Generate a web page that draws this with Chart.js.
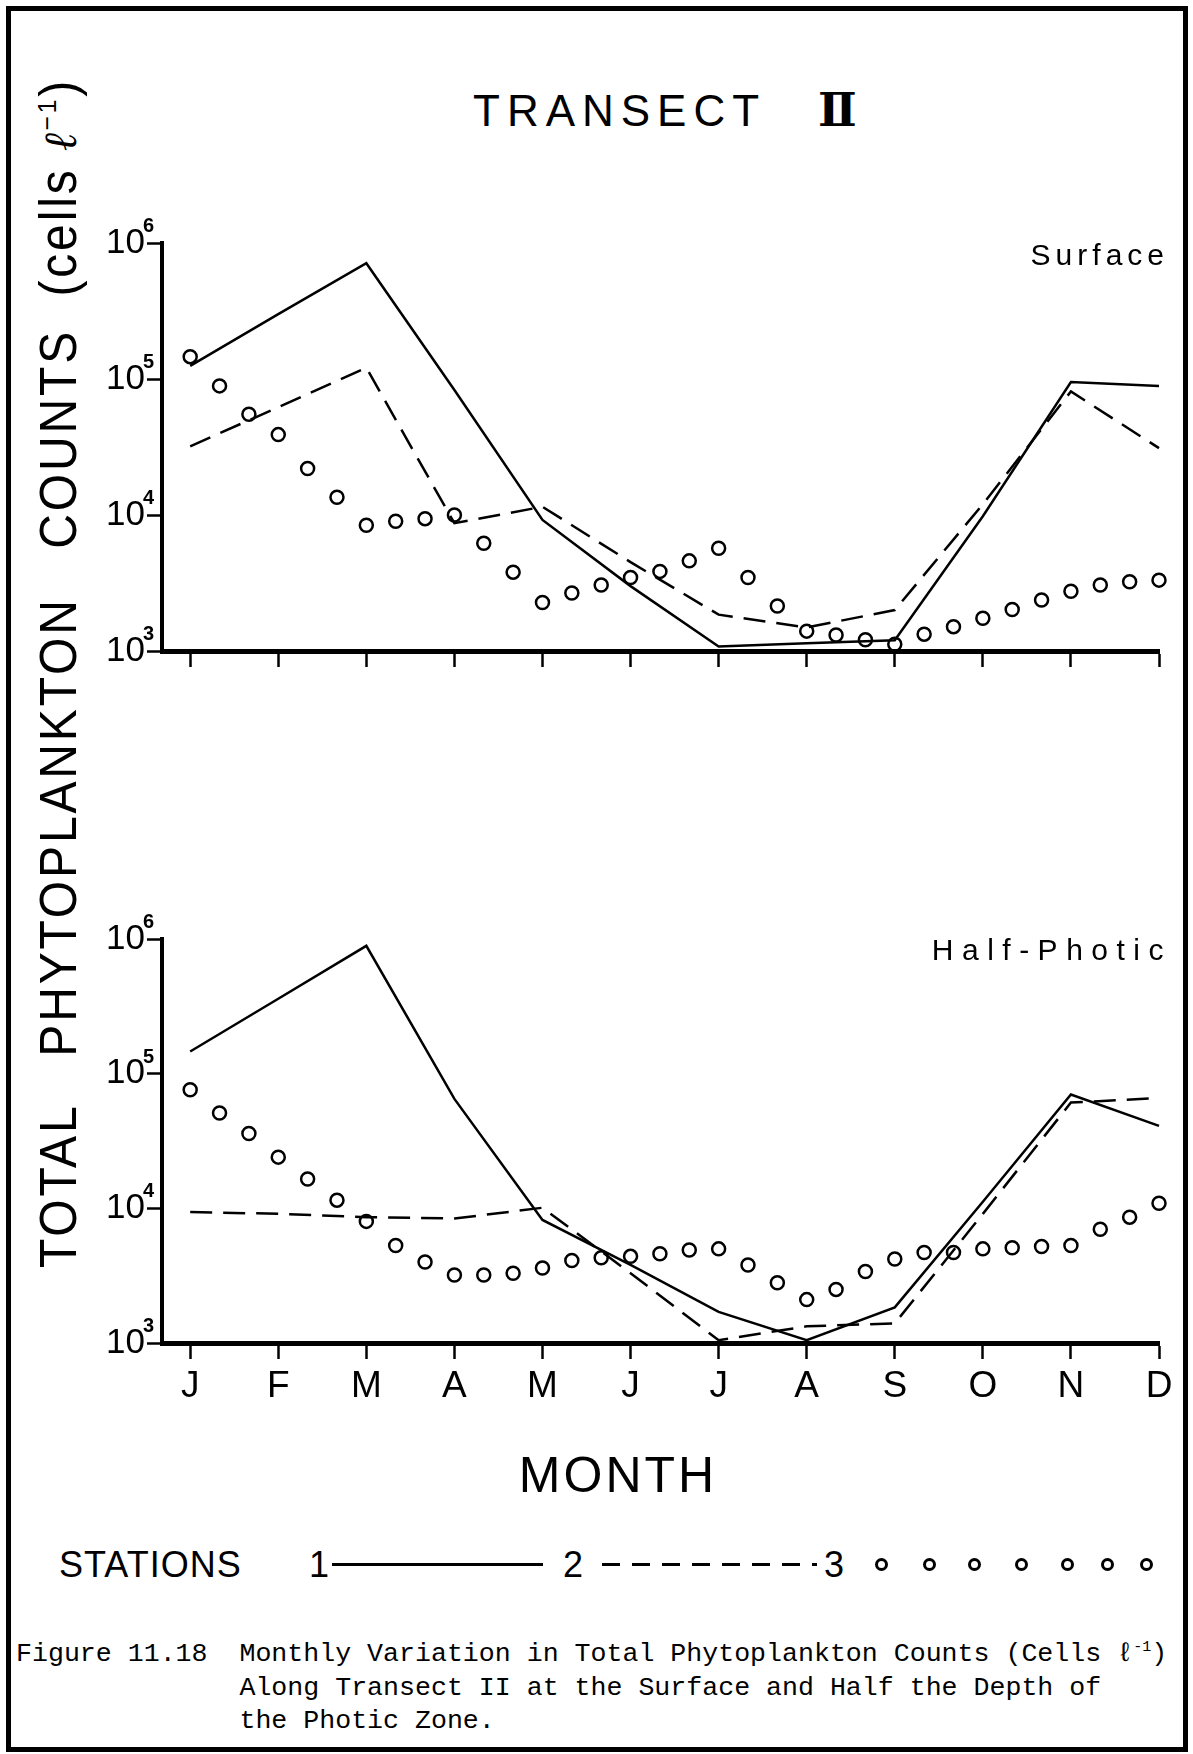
<!DOCTYPE html>
<html>
<head>
<meta charset="utf-8">
<title>Transect II - phytoplankton counts</title>
<script src="https://cdn.jsdelivr.net/npm/chart.js@4.4.1/dist/chart.umd.min.js"></script>
<style>
  html, body { margin: 0; padding: 0; background: #fff; }
  body {
    width: 1193px; height: 1754px; position: relative; overflow: hidden;
    font-family: "Liberation Sans", Arial, sans-serif; color: #000;
  }
  .frame {
    position: absolute; left: 6px; top: 6px; width: 1182px; height: 1746px;
    box-sizing: border-box; border: 5px solid #000;
  }
  .txt { position: absolute; white-space: pre; line-height: 1; }
  .panel { position: absolute; left: 0; }
  #title { left: 473px; top: 89px; font-size: 44px; letter-spacing: 7px; }
  #titleNum { left: 818px; top: 87px; font-size: 46px; font-weight: bold; font-family: "DejaVu Serif", serif; }
  #yTitle {
    left: 33px; top: 1268px; font-size: 51px; letter-spacing: 3px;
    transform-origin: 0 0;
  }
  #yTitle i { font-family: "DejaVu Serif", serif; font-size: 46px; }
  #yTitle sup { font-size: 26px; line-height: 0; vertical-align: 20px; }
  .panelName { right: 24px; font-size: 30px; letter-spacing: 5px; }
  #monthTitle { left: 418px; width: 400px; text-align: center; top: 1450px; font-size: 50px; letter-spacing: 3px; }
  .legendText { top: 1547px; font-size: 36px; }
  .legendSolid { position: absolute; left: 332px; top: 1563px; width: 211px; height: 3px; background: #000; }
  .legendDash {
    position: absolute; left: 602px; top: 1563px; width: 215px; height: 3px;
    background: repeating-linear-gradient(to right, #000 0 18px, transparent 18px 30px);
  }
  .legendDot {
    position: absolute; top: 1558px; width: 13px; height: 13px; box-sizing: border-box;
    border: 3px solid #000; border-radius: 50%;
  }
  #caption {
    position: absolute; left: 16px; top: 1638px; white-space: pre;
    font-family: "Liberation Mono", "DejaVu Sans Mono", monospace;
    font-size: 26.6px; line-height: 33.5px;
  }
  #caption sup { font-size: 15px; line-height: 0; vertical-align: 10px; }
</style>
</head>
<body>
<div class="frame"></div>

<div id="title" class="txt">TRANSECT</div>
<div id="titleNum" class="txt">Ⅱ</div>

<div id="yTitle" class="txt">TOTAL   PHYTOPLANKTON   COUNTS  (cells <i>ℓ</i><sup>−1</sup>)</div>

<div class="panel" style="top:200px"><canvas id="surfaceChart" width="1193" height="500"></canvas></div>
<div class="panel" style="top:880px"><canvas id="halfPhoticChart" width="1193" height="560"></canvas></div>

<div class="txt panelName" style="top:240px">Surface</div>
<div class="txt panelName" style="top:935px; letter-spacing:8.5px; right:21px">Half-Photic</div>

<div id="monthTitle" class="txt">MONTH</div>

<div class="txt legendText" style="left:59px; letter-spacing:1px">STATIONS</div>
<div class="txt legendText" style="left:309px">1</div>
<div class="legendSolid"></div>
<div class="txt legendText" style="left:563px">2</div>
<div class="legendDash"></div>
<div class="txt legendText" style="left:824px">3</div>
<div id="legendDots"></div>

<div id="caption">Figure 11.18  Monthly Variation in Total Phytoplankton Counts (Cells ℓ<sup>-1</sup>)
              Along Transect II at the Surface and Half the Depth of
              the Photic Zone.</div>

<script>
// Month ticks along the x axis
const monthLabels = ['J', 'F', 'M', 'A', 'M', 'J', 'J', 'A', 'S', 'O', 'N', 'D'];
// Station 3 was sampled three times a month
const samplesPerMonth = 3;

// Surface counts (cells per litre)
const surfaceStation1 = [125000, 300000, 710000, 83000, 9200, 3000, 1080, 1140, 1200, 9800, 95000, 89000];
const surfaceStation2 = [32000, 62000, 121000, 8700, 11500, 4500, 1850, 1490, 2000, 12000, 81000, 31000];
const surfaceStation3 = [146000, 89000, 55000, 39000, 22000, 13500, 8400, 9000, 9400, 10000, 6200, 3800,
  2270, 2670, 3060, 3470, 3850, 4600, 5700, 3470, 2140, 1400, 1310, 1210, 1120, 1330, 1510, 1740,
  2020, 2370, 2750, 3060, 3230, 3320];

// Half the depth of the photic zone
const halfStation1 = [146000, 360000, 890000, 65000, 8200, 3800, 1700, 1050, 1840, 11200, 70000, 41000];
const halfStation2 = [9400, 9100, 8600, 8400, 10100, 3300, 1050, 1330, 1400, 9100, 61000, 66000];
const halfStation3 = [76000, 51000, 36000, 24000, 16500, 11500, 8000, 5300, 4000, 3200, 3200, 3300,
  3600, 4100, 4300, 4400, 4600, 4900, 5000, 3800, 2800, 2100, 2500, 3400, 4200, 4700, 4700, 5000,
  5100, 5200, 5300, 7000, 8600, 10900];

// y axis decades
const decadeTicks = [1e3, 1e4, 1e5, 1e6];

// legend circles
const legendDotX = [881, 929, 974, 1021, 1067, 1107, 1146];
legendDotX.forEach(x => {
    const d = document.createElement('div');
    d.className = 'legendDot';
    d.style.left = (x - 6) + 'px';
    document.getElementById('legendDots').appendChild(d);
});

// "10" with a raised exponent at every decade
const decadeLabels = {
    id: 'decadeLabels',
    afterDraw(chart) {
        const { ctx, scales: { y }, chartArea } = chart;
        ctx.save();
        ctx.fillStyle = '#000';
        y.ticks.forEach(t => {
            const py = y.getPixelForValue(t.value);
            const exp = Math.round(Math.log10(t.value));
            ctx.font = '35px "Liberation Sans", sans-serif';
            ctx.textAlign = 'right';
            ctx.textBaseline = 'middle';
            ctx.fillText('10', chartArea.left - 17, py);
            ctx.font = 'bold 20px "Liberation Sans", sans-serif';
            ctx.textAlign = 'left';
            ctx.textBaseline = 'alphabetic';
            ctx.fillText(String(exp), chartArea.left - 19, py - 11);
        });
        ctx.restore();
    }
};

function lineSet(values, dashed) {
    return {
        data: values.map((v, i) => ({ x: i, y: v })),
        borderColor: '#000',
        borderWidth: 2.5,
        borderDash: dashed ? [22, 11] : [],
        pointRadius: 0,
        tension: 0,
        fill: false,
        clip: false
    };
}

function dotSet(values) {
    return {
        data: values.map((v, i) => ({ x: i / samplesPerMonth, y: v })),
        showLine: false,
        pointRadius: 6.5,
        pointBorderWidth: 2.5,
        pointBorderColor: '#000',
        pointBackgroundColor: 'rgba(0,0,0,0)',
        clip: false
    };
}

function makeChart(id, s1, s2, s3, opts) {
    new Chart(document.getElementById(id), {
        type: 'line',
        data: { datasets: [lineSet(s1, false), lineSet(s2, true), dotSet(s3)] },
        options: {
            responsive: false,
            animation: false,
            events: [],
            devicePixelRatio: 1,
            layout: { padding: opts.padding },
            plugins: { legend: { display: false }, tooltip: { enabled: false } },
            scales: {
                x: {
                    type: 'linear',
                    min: -0.32,
                    max: 11,
                    afterBuildTicks: axis => { axis.ticks = monthLabels.map((m, i) => ({ value: i })); },
                    afterFit: axis => { axis.height = opts.xHeight; },
                    border: { display: true, color: '#000', width: 5 },
                    grid: { drawOnChartArea: false, drawTicks: true, tickLength: 16, tickWidth: 2.5, tickColor: '#000' },
                    ticks: {
                        display: opts.showMonths,
                        autoSkip: false,
                        maxRotation: 0,
                        padding: 6,
                        color: '#000',
                        font: { family: '"Liberation Sans", sans-serif', size: 37 },
                        callback: value => monthLabels[value]
                    }
                },
                y: {
                    type: 'logarithmic',
                    min: 1000,
                    max: 1000000,
                    afterBuildTicks: axis => { axis.ticks = decadeTicks.map(v => ({ value: v })); },
                    afterFit: axis => { axis.width = 60; },
                    border: { display: true, color: '#000', width: 4 },
                    grid: { drawOnChartArea: false, drawTicks: true, tickLength: 15, tickWidth: 2.5, tickColor: '#000' },
                    ticks: { display: false }
                }
            }
        },
        plugins: [decadeLabels]
    });
}

// Surface panel: plot area 162..1159 x 243..651
makeChart('surfaceChart', surfaceStation1, surfaceStation2, surfaceStation3, {
    padding: { left: 102, right: 34, top: 43, bottom: 19 },
    xHeight: 30,
    showMonths: false
});

// Half-photic panel: plot area 162..1159 x 939..1343
makeChart('halfPhoticChart', halfStation1, halfStation2, halfStation3, {
    padding: { left: 102, right: 34, top: 59, bottom: 37 },
    xHeight: 60,
    showMonths: true
});

// stretch the rotated axis title over its span (1268 down to 78)
const yTitle = document.getElementById('yTitle');
const naturalWidth = yTitle.getBoundingClientRect().width;
yTitle.style.transform = 'rotate(-90deg) scaleX(' + (1190 / naturalWidth) + ')';
</script>
</body>
</html>
